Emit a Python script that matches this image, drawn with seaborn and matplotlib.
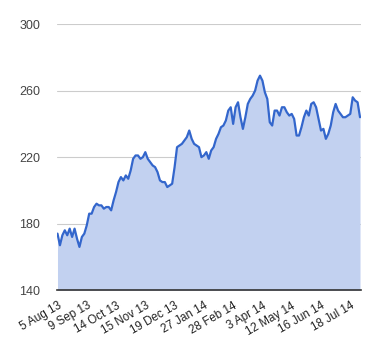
import numpy as np
import pandas as pd
import seaborn as sns
import matplotlib
matplotlib.use("Agg")
import matplotlib.pyplot as plt

# closing price, sampled every second trading day, 5 Aug 13 .. 1 Aug 14
price = [174, 167, 173, 176, 173, 177, 172, 177, 171, 166,
         172, 174, 179, 186, 186, 190, 192, 191, 191, 189,
         190, 190, 188, 194, 199, 205, 208, 206, 209, 207,
         212, 219, 221, 221, 219, 220, 223, 219, 217, 215,
         214, 211, 206, 205, 205, 202, 203, 204, 214, 226,
         227, 228, 230, 232, 236, 231, 228, 227, 226, 220,
         221, 223, 219, 224, 226, 231, 234, 238, 239, 242,
         248, 250, 240, 250, 253, 244, 237, 244, 252, 255,
         257, 260, 266, 269, 266, 259, 255, 241, 239, 248,
         248, 245, 250, 250, 247, 245, 246, 243, 233, 233,
         238, 244, 248, 245, 252, 253, 250, 243, 236, 237,
         231, 234, 239, 247, 252, 248, 246, 244, 244, 245,
         246, 256, 254, 253, 244]

tick_labels = ['5 Aug 13', '9 Sep 13', '14 Oct 13', '15 Nov 13', '19 Dec 13',
               '27 Jan 14', '28 Feb 14', '3 Apr 14', '12 May 14', '16 Jun 14',
               '18 Jul 14']
tick_every = 12

df = pd.DataFrame({'idx': np.arange(len(price)), 'price': price})

sns.set_style("white")
plt.rcParams['font.family'] = ['Liberation Sans', 'DejaVu Sans']

fig = plt.figure(figsize=(3.8, 3.6), dpi=100)
ax = fig.add_axes([0.15, 0.194, 0.80, 0.739])

blue = '#3366cc'
ax.fill_between(df['idx'], 140, df['price'], color='#c2d1f0', lw=0, zorder=1)
sns.lineplot(data=df, x='idx', y='price', ax=ax, color=blue, lw=1.6, zorder=3)

ax.set_ylim(140, 300)
ax.set_xlim(-0.2, len(price) - 0.6)
ax.set_yticks(range(140, 301, 40))
ax.yaxis.grid(True, color='#cccccc', lw=0.8)
ax.set_axisbelow(True)
for s in ['top', 'right', 'left']:
    ax.spines[s].set_visible(False)
ax.spines['bottom'].set_color('#333333')
ax.spines['bottom'].set_linewidth(1.2)
ax.spines['bottom'].set_zorder(4)

ax.set_xticks(np.arange(len(tick_labels)) * tick_every)
ax.set_xticklabels(tick_labels, rotation=30, ha='right', rotation_mode='anchor')
ax.tick_params(axis='x', length=0, pad=7, labelsize=8.4, colors='#222222')
ax.tick_params(axis='y', length=0, pad=12, labelsize=9, colors='#444444')
ax.set_xlabel('')
ax.set_ylabel('')

fig.savefig('out.png', dpi=100)
